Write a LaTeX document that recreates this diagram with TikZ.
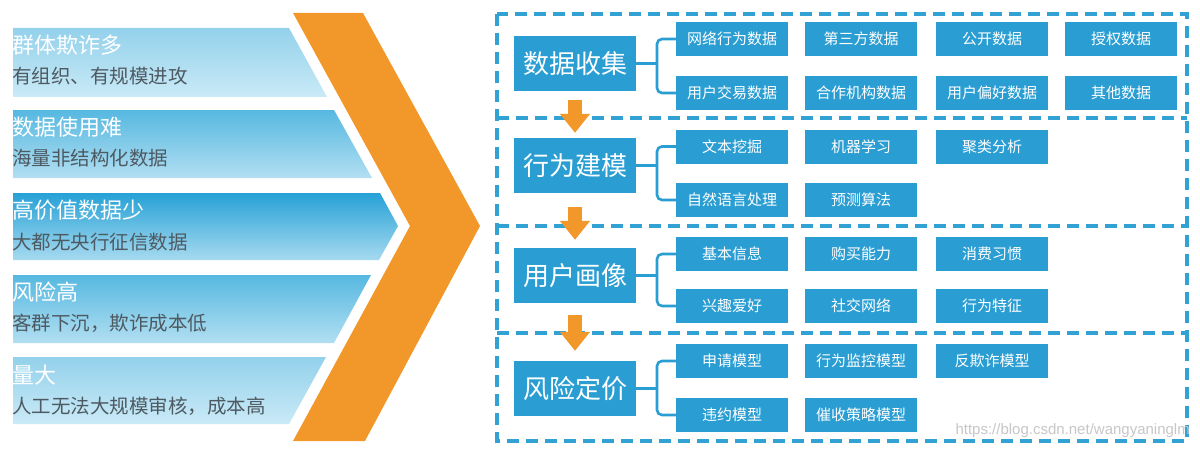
\documentclass[tikz,border=0pt]{standalone}
\usepackage{fontspec}
\newfontfamily\cjk{Noto Sans CJK SC}
\newfontfamily\wmfont{Liberation Sans}
\usetikzlibrary{arrows.meta,calc}
\definecolor{boxblue}{HTML}{2A9ED3}
\definecolor{dashblue}{HTML}{32A2D4}
\definecolor{orng}{HTML}{F2982B}
\definecolor{subgray}{HTML}{4E5A62}
\definecolor{bAtop}{HTML}{93D1EB}
\definecolor{bAbot}{HTML}{CAEAF7}
\definecolor{bBtop}{HTML}{56B8E0}
\definecolor{bBbot}{HTML}{B2DFF2}
\definecolor{bCtop}{HTML}{26A1D6}
\definecolor{bCbot}{HTML}{A6DAF0}
\tikzset{
  mainbox/.style={fill=boxblue, text=white, minimum width=122pt, minimum height=55pt, inner sep=0pt, font=\cjk\fontsize{26}{30}\selectfont},
  smallbox/.style={fill=boxblue, text=white, minimum width=112pt, minimum height=34pt, inner sep=0pt, font=\cjk\fontsize{15}{18}\selectfont},
  bandtitle/.style={anchor=west, text=white, inner sep=0pt, font=\cjk\fontsize{22}{24}\selectfont},
  bandsub/.style={anchor=west, text=subgray, inner sep=0pt, font=\cjk\fontsize{19.5}{22}\selectfont},
  dashframe/.style={draw=dashblue, line width=3.2pt, dash pattern=on 12pt off 7pt},
  bracket/.style={draw=boxblue, line width=2.6pt, rounded corners=5pt},
  bigarrow/.style={draw=orng, line width=14pt, -{Triangle[width=29pt,length=19pt]}},
}
\begin{document}
\begin{tikzpicture}[x=1pt,y=-1pt]
\useasboundingbox[fill=white] (0,0) rectangle (1200,452);

% left bands
\shade[top color=bAtop, bottom color=bAbot] (13,28) -- (289,28) -- (327,97) -- (13,97) -- cycle;
\shade[top color=bBtop, bottom color=bBbot] (13,110) -- (334,110) -- (372,178) -- (13,178) -- cycle;
\shade[top color=bCtop, bottom color=bCbot] (13,193) -- (380,193) -- (398,226) -- (379,260) -- (13,260) -- cycle;
\shade[top color=bBtop, bottom color=bBbot] (13,275) -- (371,275) -- (334,343) -- (13,343) -- cycle;
\shade[top color=bAtop, bottom color=bAbot] (13,357) -- (326,357) -- (289,424) -- (13,424) -- cycle;

\node[bandtitle] (t1) at (12,45) {群体欺诈多};
\node[bandsub] (s1) at (12,76) {有组织、有规模进攻};
\node[bandtitle] (t2) at (12,127) {数据使用难};
\node[bandsub] (s2) at (12,158) {海量非结构化数据};
\node[bandtitle] (t3) at (12,210) {高价值数据少};
\node[bandsub] (s3) at (12,242) {大都无央行征信数据};
\node[bandtitle] (t4) at (12,292) {风险高};
\node[bandsub] (s4) at (12,323) {客群下沉，欺诈成本低};
\node[bandtitle] (t5) at (12,375) {量大};
\node[bandsub] (s5) at (12,406) {人工无法大规模审核，成本高};

% orange chevron
\fill[orng] (293,13) -- (363,13) -- (480,226) -- (365,441) -- (293,441) -- (410,226) -- cycle;

% dashed frame
\draw[dashframe] (497,14) rectangle (1187,441);
\draw[dashframe] (497,118) -- (1187,118);
\draw[dashframe] (497,226) -- (1187,226);
\draw[dashframe] (497,333) -- (1187,333);

% main boxes
\node[mainbox] (m1) at (575,63.5) {数据收集};
\node[mainbox] (m2) at (575,165.5) {行为建模};
\node[mainbox] (m3) at (575,275.5) {用户画像};
\node[mainbox] (m4) at (575,388.5) {风险定价};

% section 1
\node[smallbox] (a11) at (732,39) {网络行为数据};
\node[smallbox] (a12) at (861,39) {第三方数据};
\node[smallbox] (a13) at (992,39) {公开数据};
\node[smallbox] (a14) at (1121,39) {授权数据};
\node[smallbox] (a21) at (732,93) {用户交易数据};
\node[smallbox] (a22) at (861,93) {合作机构数据};
\node[smallbox] (a23) at (992,93) {用户偏好数据};
\node[smallbox] (a24) at (1121,93) {其他数据};

% section 2
\node[smallbox] (b11) at (732,146.5) {文本挖掘};
\node[smallbox] (b12) at (861,146.5) {机器学习};
\node[smallbox] (b13) at (992,146.5) {聚类分析};
\node[smallbox] (b21) at (732,200) {自然语言处理};
\node[smallbox] (b22) at (861,200) {预测算法};

% section 3
\node[smallbox] (c11) at (732,254) {基本信息};
\node[smallbox] (c12) at (861,254) {购买能力};
\node[smallbox] (c13) at (992,254) {消费习惯};
\node[smallbox] (c21) at (732,306) {兴趣爱好};
\node[smallbox] (c22) at (861,306) {社交网络};
\node[smallbox] (c23) at (992,306) {行为特征};

% section 4
\node[smallbox] (d11) at (732,361) {申请模型};
\node[smallbox] (d12) at (861,361) {行为监控模型};
\node[smallbox] (d13) at (992,361) {反欺诈模型};
\node[smallbox] (d21) at (732,415) {违约模型};
\node[smallbox] (d22) at (861,415) {催收策略模型};

% brackets
\coordinate (j1) at (657,63.5);
\coordinate (j2) at (657,165.5);
\coordinate (j3) at (657,275.5);
\coordinate (j4) at (657,388.5);
\draw[bracket] (m1.east) -- (j1);
\draw[bracket] (a11.west) -| (j1) |- (a21.west);
\draw[bracket] (m2.east) -- (j2);
\draw[bracket] (b11.west) -| (j2) |- (b21.west);
\draw[bracket] (m3.east) -- (j3);
\draw[bracket] (c11.west) -| (j3) |- (c21.west);
\draw[bracket] (m4.east) -- (j4);
\draw[bracket] (d11.west) -| (j4) |- (d21.west);

% orange arrows
\draw[bigarrow] ($(m1.south)+(0,9)$) -- ($(m2.north)+(0,-5)$);
\draw[bigarrow] ($(m2.south)+(0,14)$) -- ($(m3.north)+(0,-8)$);
\draw[bigarrow] ($(m3.south)+(0,12)$) -- ($(m4.north)+(0,-10)$);

% watermark
\node[anchor=east, inner sep=0pt, text=black!22, font=\wmfont\fontsize{15}{17}\selectfont] (wm) at (1190,431) {https://blog.csdn.net/wangyaninglm};
\end{tikzpicture}
\end{document}
